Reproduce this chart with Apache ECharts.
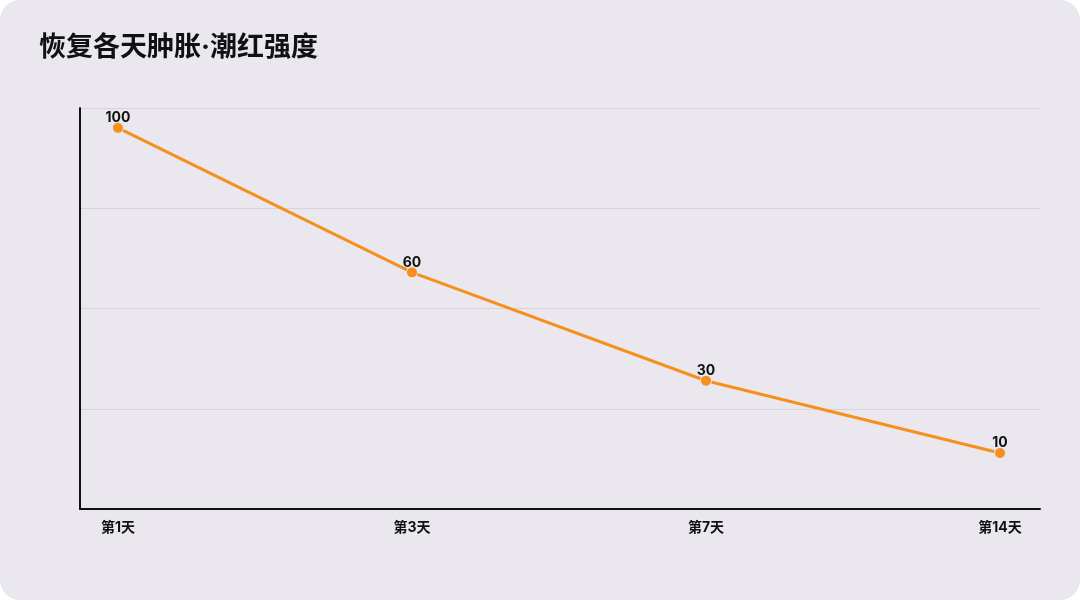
<!DOCTYPE html>
<html>
<head>
<meta charset="utf-8">
<script src="https://cdn.jsdelivr.net/npm/echarts@6/dist/echarts.min.js"></script>
<style>
  html, body { margin: 0; padding: 0; background: #ffffff; }
  #chart { width: 1080px; height: 600px; background: #eae8ee; border-radius: 20px; overflow: hidden; }
</style>
</head>
<body>
<div id="chart"></div>
<script>
// data
var days = ['第1天', '第3天', '第7天', '第14天'];
var intensity = [100, 60, 30, 10];
var dayIndex = [0, 1, 2, 3];

var points = [];
for (var i = 0; i < days.length; i++) {
    points.push([dayIndex[i], intensity[i]]);
}

var chart = echarts.init(document.getElementById('chart'));

var options = {
    backgroundColor: 'transparent',
    textStyle: { fontFamily: 'Inter, "Noto Sans CJK SC", sans-serif' },
    title: {
        text: '恢复各天肿胀·潮红强度',
        left: 34,
        top: 29,
        textStyle: { fontSize: 27, fontWeight: 'bold', color: '#111111' }
    },
    grid: { left: 80, right: 40, top: 108, bottom: 91 },
    xAxis: {
        type: 'value',
        min: -0.129,
        max: 3.136,
        axisLine: { show: true, onZero: false, lineStyle: { color: '#111111', width: 2 } },
        axisTick: { show: false },
        splitLine: { show: false },
        axisLabel: {
            customValues: dayIndex,
            formatter: function (v) { return days[Math.round(v)]; },
            color: '#111111',
            fontSize: 14,
            fontWeight: 'bold',
            margin: 12
        }
    },
    yAxis: {
        type: 'value',
        min: -5.5,
        max: 105.5,
        interval: 27.75,
        axisLine: { show: true, onZero: false, lineStyle: { color: '#111111', width: 2 } },
        axisTick: { show: false },
        axisLabel: { show: false },
        splitLine: { lineStyle: { color: '#d6d4da', width: 1 } }
    },
    series: [{
        type: 'line',
        data: points,
        symbol: 'circle',
        symbolSize: 11,
        lineStyle: { color: '#f5901e', width: 3 },
        itemStyle: { color: '#f5901e', borderColor: '#eae8ee', borderWidth: 1 },
        label: {
            show: true,
            position: 'top',
            distance: 0,
            offset: [0, 3],
            formatter: function (p) { return p.value[1]; },
            color: '#111111',
            fontSize: 14,
            fontWeight: 'bold'
        }
    }]
};

chart.setOption(options);
</script>
</body>
</html>
